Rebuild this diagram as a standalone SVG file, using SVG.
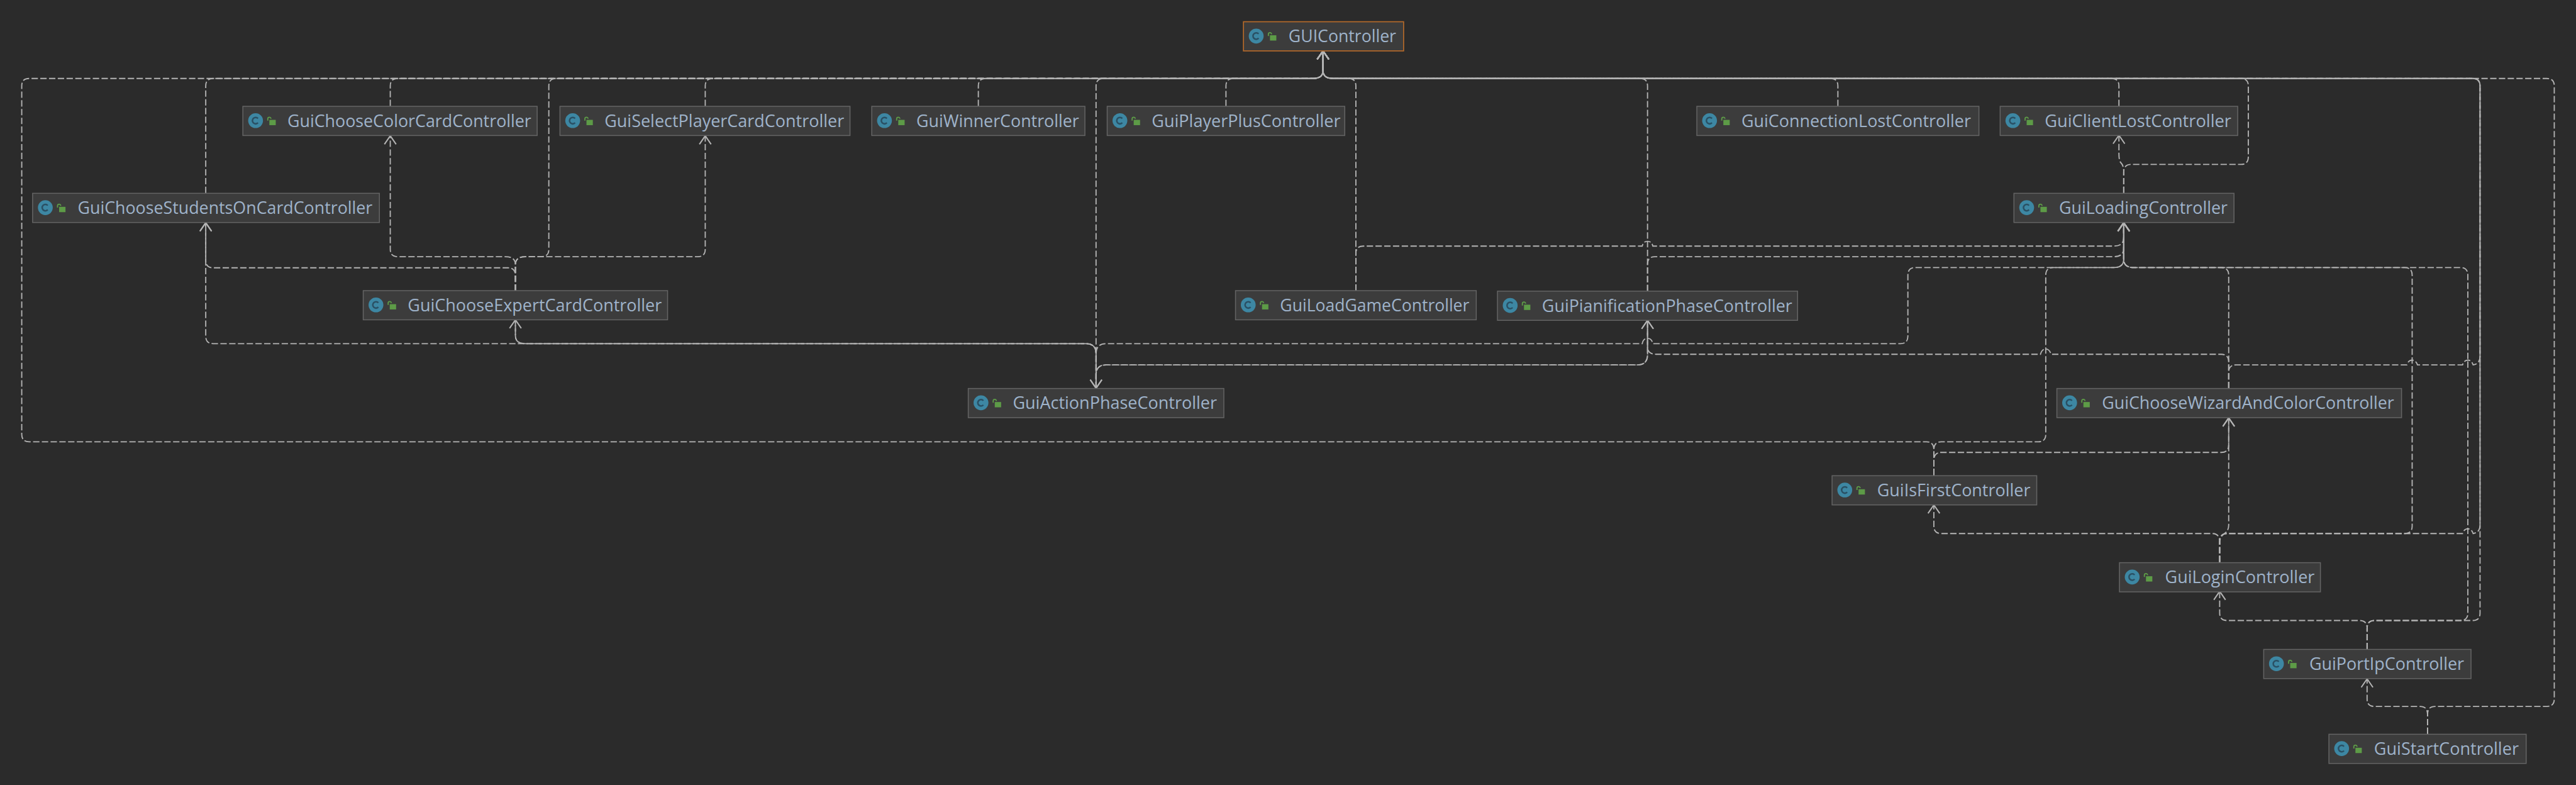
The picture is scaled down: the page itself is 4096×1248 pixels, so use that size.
<svg xmlns="http://www.w3.org/2000/svg" width="4096" height="1248" viewBox="0 0 4096 1248">
<style>
.bg{fill:#2b2b2b}
.box{fill:#3c3c3c;stroke:#646464;stroke-width:1.8}
.top{fill:#3c3c3c;stroke:#b56a2a;stroke-width:2}
.c{fill:#3d87a3}
.cl{fill:none;stroke:#2a5064;stroke-width:3}
.lock{fill:#5d9b47}
.sh{fill:none;stroke:#5d9b47;stroke-width:2.2}
.t{font-family:"Open Sans","Noto Sans",sans-serif;font-size:33px;fill:#9fb3ca}
.e{fill:none;stroke:#b4b4b4;stroke-width:2.2;stroke-dasharray:12 4.500;marker-end:url(#a)}
</style>
<defs>
<marker id="a" markerUnits="userSpaceOnUse" markerWidth="40" markerHeight="40" refX="0" refY="0" orient="auto" overflow="visible"><path d="M-16,-11L0,0L-16,11" fill="none" stroke="#b4b4b4" stroke-width="2.4"/></marker>
<g id="ic"><circle class="c" cx="24" cy="27" r="14"/><path class="cl" d="M28.500,23A6,6 0 1 0 28.500,31"/><path class="sh" d="M47,27V23.500a3,3 0 0 1 6,0"/><rect class="lock" x="50" y="25.500" width="12" height="10"/></g>
</defs>
<rect class="bg" width="4096" height="1248"/>
<g transform="scale(0.84315)">
<g id="connectors">
<path class="e" d="M736,200V162Q736,148 750,148H2476Q2495,148 2495,133V96"/>
<path class="e" d="M1330,200V162Q1330,148 1344,148H2476Q2495,148 2495,133V96"/>
<path class="e" d="M388,364V162Q388,148 402,148H2476Q2495,148 2495,133V96"/>
<path class="e" d="M1845,200V162Q1845,148 1859,148H2476Q2495,148 2495,133V96"/>
<path class="e" d="M2312,200V162Q2312,148 2326,148H2476Q2495,148 2495,133V96"/>
<path class="e" d="M972,548V499Q972,484 991,484H1021Q1035,484 1035,470V162Q1035,148 1049,148H2476Q2495,148 2495,133V96"/>
<path class="e" d="M972,548V499Q972,484 953,484H750Q736,484 736,470V256"/>
<path class="e" d="M972,548V499Q972,484 991,484H1316Q1330,484 1330,470V256"/>
<path class="e" d="M972,548V520Q972,505 958,505H402Q388,505 388,491V420"/>
<path class="e" d="M2067,732V162Q2067,148 2081,148H2476Q2495,148 2495,133V96"/>
<path class="e" d="M2067,732V667Q2067,648 2048,648H991Q972,648 972,633V603"/>
<path class="e" d="M2067,732V667Q2067,648 2048,648H402Q388,648 388,634V420"/>
<path class="e" d="M972,603V633Q972,648 991,648H2048Q2067,648 2067,667V732"/>
<path class="e" d="M3107,604V669Q3107,688 3088,688H2086Q2067,688 2067,707V732"/>
<path class="e" d="M2067,732V707Q2067,688 2086,688H3088Q3107,688 3107,669V604"/>
<path class="e" d="M2067,732V667Q2067,648 2086,648H3097Q3099,638 3107,638Q3115,638 3117,648H3584Q3598,648 3598,634V519Q3598,504.500 3612,504.500H3986Q4005,504.500 4005,489V420"/>
<path class="e" d="M4203,732V683Q4203,668 4189,668H3868Q3865,658 3858,658Q3851,658 3848,668H3123Q3107,668 3107,654V604"/>
<path class="e" d="M3107,549V162Q3107,148 3093,148H2514Q2495,148 2495,133V96"/>
<path class="e" d="M3107,549V498Q3107,484 3121,484H3986Q4005,484 4005,469V420"/>
<path class="e" d="M2557,548V162Q2557,148 2543,148H2514Q2495,148 2495,133V96"/>
<path class="e" d="M2557,548V478Q2557,464 2571,464H3097Q3099,455 3107,455Q3115,455 3117,464H3986Q4005,464 4005,449V420"/>
<path class="e" d="M3466,200V162Q3466,148 3452,148H2514Q2495,148 2495,133V96"/>
<path class="e" d="M3996,200V162Q3996,148 3982,148H2514Q2495,148 2495,133V96"/>
<path class="e" d="M4005,364V322Q4005,312 3999,306Q3996,302 3996,290V255"/>
<path class="e" d="M4005,364V325Q4005,310 4019,310H4226Q4240,310 4240,296V162Q4240,148 4226,148H2514Q2495,148 2495,133V96"/>
<path class="e" d="M4203,732V702Q4203,688 4217,688H4539Q4542,679 4549,679Q4556,679 4559,688H4644Q4647,679 4654,679Q4661,679 4664,688Q4677,686 4677,672V162Q4677,148 4663,148H2514Q2495,148 2495,133V96"/>
<path class="e" d="M4203,732V519Q4203,504.500 4189,504.500H4024Q4005,504.500 4005,489V420"/>
<path class="e" d="M3647,896V848Q3647,833 3633,833H55Q41,833 41,819V162Q41,148 55,148H2476Q2495,148 2495,133V96"/>
<path class="e" d="M3647,896V848Q3647,833 3661,833H3844Q3858,833 3858,819V519Q3858,504.500 3872,504.500H3986Q4005,504.500 4005,489V420"/>
<path class="e" d="M3647,896V868Q3647,853 3661,853H4189Q4203,853 4203,839V788"/>
<path class="e" d="M4186,1060V1022Q4186,1006 4172,1006H3661Q3647,1006 3647,992V952"/>
<path class="e" d="M4186,1060V1022Q4186,1012 4195,1006Q4203,1001 4203,990V788"/>
<path class="e" d="M4186,1060V1022Q4186,1006 4200,1006H4535Q4549,1006 4549,992V519Q4549,504.500 4535,504.500H4024Q4005,504.500 4005,489V420"/>
<path class="e" d="M4186,1060V1022Q4186,1006 4200,1006H4644Q4647,997 4654,997Q4661,997 4664,1006Q4677,1004 4677,990V162Q4677,148 4663,148H2514Q2495,148 2495,133V96"/>
<path class="e" d="M4464,1224V1185Q4464,1170 4450,1170H4200Q4186,1170 4186,1156V1115"/>
<path class="e" d="M4464,1224V1185Q4464,1170 4478,1170H4640Q4654,1170 4654,1156V519Q4654,504.500 4640,504.500H4024Q4005,504.500 4005,489V420"/>
<path class="e" d="M4464,1224V1185Q4464,1170 4478,1170H4663Q4677,1170 4677,1156V162Q4677,148 4663,148H2514Q2495,148 2495,133V96"/>
<path class="e" d="M4578,1384V1347Q4578,1332 4564,1332H4478Q4464,1332 4464,1318V1280"/>
<path class="e" d="M4578,1384V1347Q4578,1332 4592,1332H4803Q4817,1332 4817,1318V162Q4817,148 4803,148H2514Q2495,148 2495,133V96"/>
</g>
<g id="GUIController" transform="translate(2345,41)"><rect class="top" width="302" height="55"/><use href="#ic"/><text class="t" x="85" y="38" textLength="203" lengthAdjust="spacingAndGlyphs">GUIController</text></g>
<g id="GuiChooseColorCardController" transform="translate(458,200.500)"><rect class="box" width="555" height="55"/><use href="#ic"/><text class="t" x="84" y="39" textLength="460" lengthAdjust="spacingAndGlyphs">GuiChooseColorCardController</text></g>
<g id="GuiSelectPlayerCardController" transform="translate(1056,200.500)"><rect class="box" width="547" height="55"/><use href="#ic"/><text class="t" x="84" y="39" textLength="452" lengthAdjust="spacingAndGlyphs">GuiSelectPlayerCardController</text></g>
<g id="GuiWinnerController" transform="translate(1644,200.500)"><rect class="box" width="402" height="55"/><use href="#ic"/><text class="t" x="84" y="39" textLength="307" lengthAdjust="spacingAndGlyphs">GuiWinnerController</text></g>
<g id="GuiPlayerPlusController" transform="translate(2088,200.500)"><rect class="box" width="448" height="55"/><use href="#ic"/><text class="t" x="84" y="39" textLength="356" lengthAdjust="spacingAndGlyphs">GuiPlayerPlusController</text></g>
<g id="GuiConnectionLostController" transform="translate(3200,200.500)"><rect class="box" width="532" height="55"/><use href="#ic"/><text class="t" x="84" y="39" textLength="433" lengthAdjust="spacingAndGlyphs">GuiConnectionLostController</text></g>
<g id="GuiClientLostController" transform="translate(3772,200.500)"><rect class="box" width="448" height="55"/><use href="#ic"/><text class="t" x="84" y="39" textLength="352" lengthAdjust="spacingAndGlyphs">GuiClientLostController</text></g>
<g id="GuiChooseStudentsOnCardController" transform="translate(61.500,364.500)"><rect class="box" width="654" height="55"/><use href="#ic"/><text class="t" x="85" y="39" textLength="556" lengthAdjust="spacingAndGlyphs">GuiChooseStudentsOnCardController</text></g>
<g id="GuiLoadingController" transform="translate(3798,364.500)"><rect class="box" width="415" height="55"/><use href="#ic"/><text class="t" x="85" y="39" textLength="318" lengthAdjust="spacingAndGlyphs">GuiLoadingController</text></g>
<g id="GuiChooseExpertCardController" transform="translate(685,548)"><rect class="box" width="574" height="55"/><use href="#ic"/><text class="t" x="84" y="39" textLength="479" lengthAdjust="spacingAndGlyphs">GuiChooseExpertCardController</text></g>
<g id="GuiLoadGameController" transform="translate(2330,548)"><rect class="box" width="454" height="55"/><use href="#ic"/><text class="t" x="84" y="39" textLength="357" lengthAdjust="spacingAndGlyphs">GuiLoadGameController</text></g>
<g id="GuiPianificationPhaseController" transform="translate(2824,549)"><rect class="box" width="566" height="55"/><use href="#ic"/><text class="t" x="84" y="39" textLength="472" lengthAdjust="spacingAndGlyphs">GuiPianificationPhaseController</text></g>
<g id="GuiActionPhaseController" transform="translate(1826,732.500)"><rect class="box" width="482" height="55"/><use href="#ic"/><text class="t" x="84" y="39" textLength="385" lengthAdjust="spacingAndGlyphs">GuiActionPhaseController</text></g>
<g id="GuiChooseWizardAndColorController" transform="translate(3879,732.500)"><rect class="box" width="650" height="55"/><use href="#ic"/><text class="t" x="85" y="39" textLength="551" lengthAdjust="spacingAndGlyphs">GuiChooseWizardAndColorController</text></g>
<g id="GuiIsFirstController" transform="translate(3455,897)"><rect class="box" width="386" height="55"/><use href="#ic"/><text class="t" x="85" y="39" textLength="289" lengthAdjust="spacingAndGlyphs">GuiIsFirstController</text></g>
<g id="GuiLoginController" transform="translate(3997,1061)"><rect class="box" width="379" height="55"/><use href="#ic"/><text class="t" x="86" y="39" textLength="282" lengthAdjust="spacingAndGlyphs">GuiLoginController</text></g>
<g id="GuiPortIpController" transform="translate(4269,1224.500)"><rect class="box" width="391" height="55"/><use href="#ic"/><text class="t" x="86" y="39" textLength="292" lengthAdjust="spacingAndGlyphs">GuiPortIpController</text></g>
<g id="GuiStartController" transform="translate(4392,1384.500)"><rect class="box" width="372" height="55"/><use href="#ic"/><text class="t" x="85" y="39" textLength="273" lengthAdjust="spacingAndGlyphs">GuiStartController</text></g>
</g>
</svg>
